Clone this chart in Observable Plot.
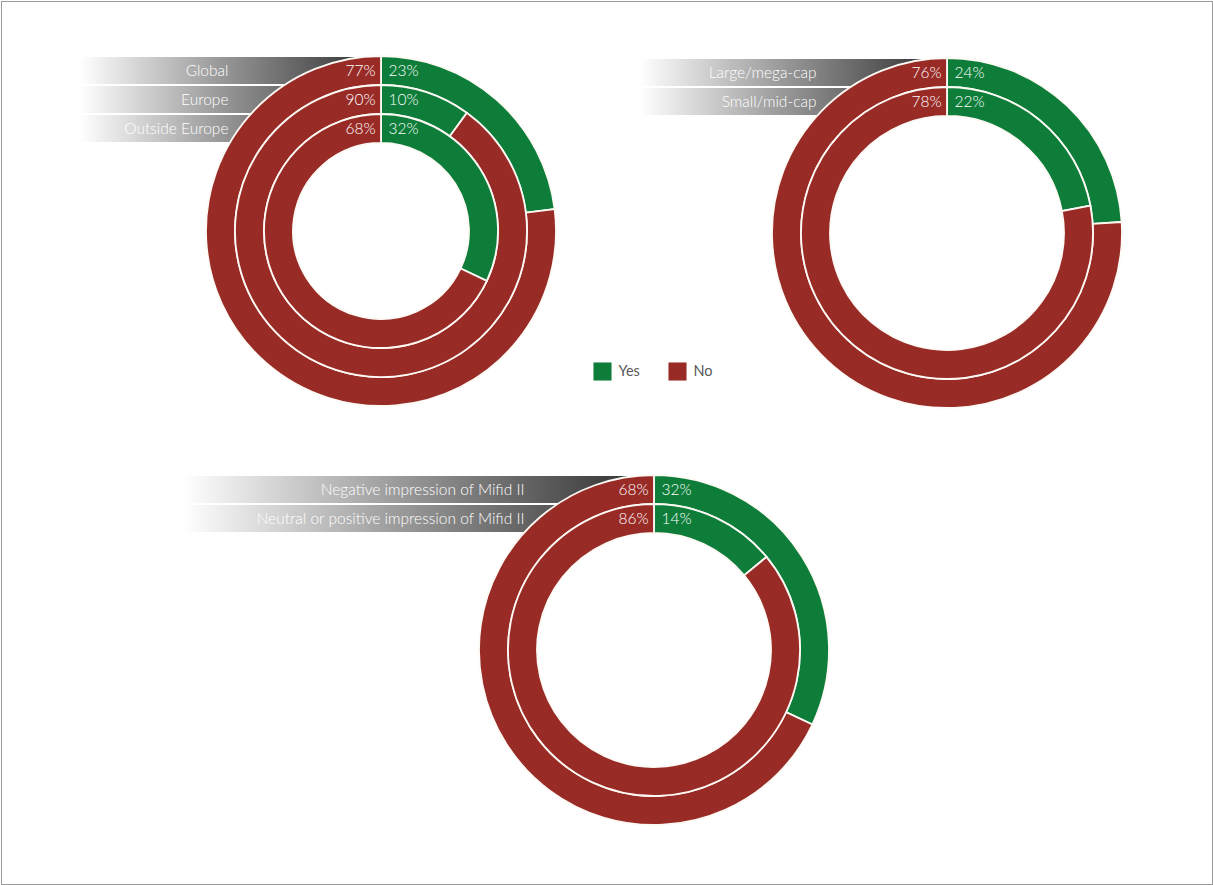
<!DOCTYPE html>
<html>
<head>
<meta charset="utf-8">
<script src="https://cdn.jsdelivr.net/npm/d3@7"></script>
<script src="https://cdn.jsdelivr.net/npm/@observablehq/plot@0.6"></script>
<style>
  body { margin: 0; background: #fff; }
  #chart svg { display: block; }
</style>
</head>
<body>
<div id="chart"></div>
<script>
// ---- Data ----
const answers = ["Yes", "No"];

const groups1 = ["Global", "Europe", "Outside Europe"];
const yes1 = [23, 10, 32];
const no1 = [77, 90, 68];

const groups2 = ["Large/mega-cap", "Small/mid-cap"];
const yes2 = [24, 22];
const no2 = [76, 78];

const groups3 = ["Negative impression of Mifid II", "Neutral or positive impression of Mifid II"];
const yes3 = [32, 14];
const no3 = [68, 86];

// ---- Layout (positions / sizes, kept separate from data) ----
const W = 1213, H = 885;
const layout = [
  {groups: groups1, yes: yes1, no: no1, cx: 381, cy: 231, stripX: 80, labelX: 228},
  {groups: groups2, yes: yes2, no: no2, cx: 947, cy: 233, stripX: 640, labelX: 816},
  {groups: groups3, yes: yes3, no: no3, cx: 654, cy: 650, stripX: 183, labelX: 524}
];
const R = 175, ringW = 29;
const colors = ["#0d7d39", "#992b27"];
const font = "Lato, 'Open Sans', sans-serif";

const angle = d3.scaleLinear([0, 100], [0, 2 * Math.PI]);

// Build tables
const segments = [];
const rows = [];
layout.forEach((c, ci) => {
  c.groups.forEach((g, i) => {
    const r1 = R - ringW * i, r0 = r1 - ringW;
    rows.push({chart: ci, group: g, cx: c.cx, cy: c.cy, stripX: c.stripX, labelX: c.labelX, r0, r1});
    let acc = 0;
    answers.forEach((a, k) => {
      const v = (k === 0 ? c.yes : c.no)[i];
      segments.push({chart: ci, group: g, answer: a, value: v, a0: angle(acc), a1: angle(acc + v),
                     cx: c.cx, cy: c.cy, r0, r1});
      acc += v;
    });
  });
});

// Custom arc mark drawn via Plot scales
function arcMark(data, options) {
  return Plot.dot(data, {
    x: "cx", y: "cy", fill: "answer", ...options,
    render(index, scales, values) {
      const kx = scales.x(1) - scales.x(0);
      const g = d3.create("svg:g");
      const arc = d3.arc();
      for (const i of index) {
        const d = data[i];
        g.append("path")
          .attr("transform", `translate(${values.x[i]},${values.y[i]})`)
          .attr("d", arc({innerRadius: d.r0 * kx, outerRadius: d.r1 * kx, startAngle: d.a0, endAngle: d.a1}))
          .attr("fill", values.fill[i])
          .attr("stroke", "#fdfaf5")
          .attr("stroke-width", 1.8);
      }
      return g.node();
    }
  });
}

const legendItems = answers.map((a, k) => ({answer: a, x: 602 + 75 * k, y: 371}));

const svg = Plot.plot({
  width: W, height: H, margin: 0,
  x: {domain: [0, W], range: [0, W], axis: null},
  y: {domain: [0, H], range: [0, H], axis: null},
  color: {domain: answers, range: colors},
  style: {fontFamily: font, background: "white"},
  marks: [
    Plot.frame({stroke: "#9a9a9a", inset: 1}),
    Plot.rect(rows, {
      x1: "stripX", x2: "cx",
      y1: d => d.cy - d.r1, y2: d => d.cy - d.r0,
      insetTop: 1, insetBottom: 1,
      fill: "url(#stripGrad)"
    }),
    arcMark(segments, {}),
    Plot.text(rows, {
      x: "labelX", y: d => d.cy - (d.r0 + d.r1) / 2, text: "group",
      textAnchor: "end", fill: "white", fontSize: 15.5, fontWeight: 300
    }),
    Plot.text(segments.filter(d => d.answer === "No"), {
      x: d => d.cx - 6, y: d => d.cy - (d.r0 + d.r1) / 2, text: d => d.value + "%",
      textAnchor: "end", fill: "white", fontSize: 15.5, fontWeight: 300
    }),
    Plot.text(segments.filter(d => d.answer === "Yes"), {
      x: d => d.cx + 7, y: d => d.cy - (d.r0 + d.r1) / 2, text: d => d.value + "%",
      textAnchor: "start", fill: "white", fontSize: 15.5, fontWeight: 300
    }),
    Plot.dot(legendItems, {x: "x", y: "y", fill: "answer", symbol: "square", r: 10.2}),
    Plot.text(legendItems, {x: d => d.x + 16, y: "y", text: "answer", textAnchor: "start", fill: "#5a5a5a", fontSize: 14.5})
  ]
});

const defs = d3.select(svg).insert("defs", ":first-child");
const grad = defs.append("linearGradient").attr("id", "stripGrad").attr("x1", "0").attr("x2", "1").attr("y1", "0").attr("y2", "0");
grad.append("stop").attr("offset", "0%").attr("stop-color", "#ffffff");
grad.append("stop").attr("offset", "45%").attr("stop-color", "#9c9c9c");
grad.append("stop").attr("offset", "100%").attr("stop-color", "#2c2c2c");

document.getElementById("chart").appendChild(svg);
</script>
</body>
</html>
